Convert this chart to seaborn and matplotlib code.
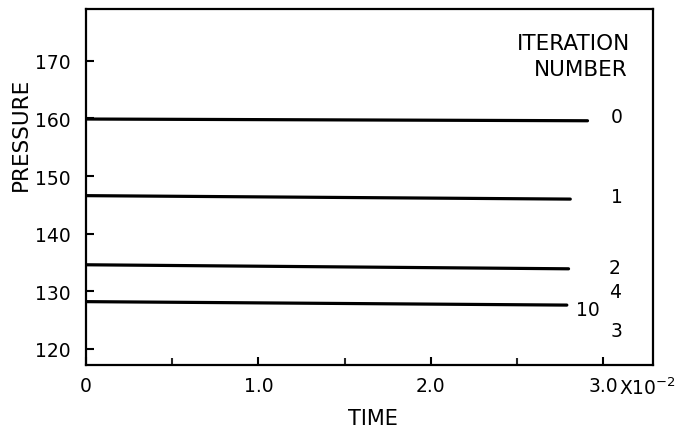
import matplotlib
matplotlib.use("Agg")
import matplotlib.pyplot as plt
import seaborn as sns
import pandas as pd

# ---- data ----
iterations = ["0", "1", "2", "10"]
time_start = [0.0, 0.0, 0.0, 0.0]
time_end = [2.91, 2.81, 2.80, 2.79]
pressure_start = [159.9, 146.6, 134.6, 128.2]
pressure_end = [159.6, 146.0, 133.9, 127.6]

label_texts = ["0", "1", "2", "4", "10", "3"]
label_x = [3.08, 3.08, 3.065, 3.07, 2.91, 3.076]
label_y = [160.4, 146.4, 134.1, 130.0, 126.9, 123.2]

x_ticks = [0.0, 1.0, 2.0, 3.0]
x_tick_labels = ["0", "1.0", "2.0", "3.0"]
x_minor_ticks = [0.5, 1.5, 2.5]
y_ticks = [120, 130, 140, 150, 160, 170]

rows = []
for it, t0, t1, p0, p1 in zip(iterations, time_start, time_end, pressure_start, pressure_end):
    rows.append({"iteration": it, "time": t0, "pressure": p0})
    rows.append({"iteration": it, "time": t1, "pressure": p1})
df = pd.DataFrame(rows)

sns.set_theme(style="ticks")
plt.rcParams["font.family"] = ["DejaVu Sans"]
plt.rcParams["text.color"] = "black"

fig = plt.figure(figsize=(6.91, 4.31), dpi=100)
ax = fig.add_axes([0.1245, 0.1508, 0.8205, 0.826])

sns.lineplot(data=df, x="time", y="pressure", hue="iteration",
             palette=["black"] * len(iterations), estimator=None,
             legend=False, linewidth=2.3, ax=ax)

ax.set_xlim(0, 3.29)
ax.set_ylim(117.2, 179.0)

ax.set_xticks(x_ticks)
ax.set_xticklabels(x_tick_labels)
ax.set_xticks(x_minor_ticks, minor=True)
ax.set_yticks(y_ticks)
ax.set_yticklabels([str(v) for v in y_ticks])

ax.tick_params(axis="both", which="major", direction="in", length=6, width=1.5,
               labelsize=13.5, colors="black", pad=8)
ax.tick_params(axis="x", which="minor", direction="in", length=5, width=1.5)
ax.tick_params(axis="y", which="major", pad=11)

for sp in ax.spines.values():
    sp.set_visible(True)
    sp.set_linewidth(1.6)
    sp.set_color("black")

ax.set_xlabel("TIME", fontsize=15, color="black")
ax.set_ylabel("PRESSURE", fontsize=15.5, color="black")
ax.xaxis.set_label_coords(0.506, -0.122)
ax.yaxis.set_label_coords(-0.098, 0.652)

# exponent next to the 3.0 tick label
ax.text(3.095, -0.032, "X10$^{-2}$", transform=ax.get_xaxis_transform(),
        ha="left", va="top", fontsize=13.5, color="black")

for txt, xx, yy in zip(label_texts, label_x, label_y):
    ax.text(xx, yy, txt, ha="center", va="center", fontsize=13.5, color="black")

ax.text(3.16, 173.1, "ITERATION", ha="right", va="center", fontsize=15.5, color="black")
ax.text(3.14, 168.6, "NUMBER", ha="right", va="center", fontsize=15.5, color="black")

fig.savefig("out.png", dpi=100)
